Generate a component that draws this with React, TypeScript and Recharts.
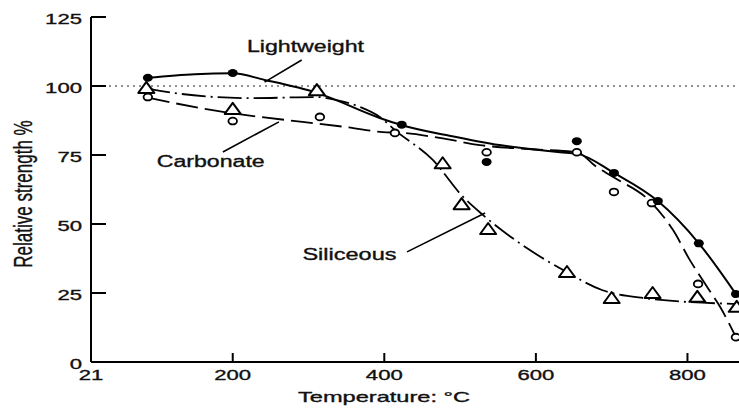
import React from 'react';
import {
  ComposedChart,
  Line,
  Scatter,
  XAxis,
  YAxis,
  ReferenceLine,
  ReferenceDot,
} from 'recharts';

// axis ticks
const tempTicks = [21, 200, 400, 600, 800];
const strengthTicks = [0, 25, 50, 75, 100, 125];

// measured points [temperature °C, relative strength %]
const lightweightPoints = [
  [88, 103], [200, 104.7], [423, 86], [535, 72.5], [654, 80],
  [703, 68.5], [761, 58.3], [815, 43], [864, 24.6],
];
const carbonatePoints = [
  [88, 96], [200, 87.3], [315, 88.8], [414, 83], [535, 76], [654, 76],
  [703, 61.6], [753, 57.6], [814, 28.3], [864, 9],
];
const siliceousPoints = [
  [86, 99.3], [200, 91.7], [311, 98.5], [477, 72], [502, 57.2], [537, 48.2],
  [641, 32.6], [700, 23.2], [754, 25], [813, 23.6], [865, 20],
];

// hand drawn fit curves
const lightweightCurve = [
  [88, 103], [150, 104.3], [200, 104.6], [242, 102.2], [311, 97.5], [394, 88.4],
  [423, 85.8], [486, 82], [552, 78.6], [632, 76], [654, 75.5], [703, 68.5],
  [761, 58.3], [815, 43], [864, 24.6],
];
const carbonateCurve = [
  [88, 95.8], [187, 90.6], [236, 88.8], [292, 87], [350, 85.1], [398, 83.3],
  [424, 83], [473, 81.2], [526, 78.6], [600, 77], [654, 76], [680, 70.7],
  [702, 67], [753, 57.6], [781, 47.8], [803, 37], [826, 27.2], [843, 20], [864, 9],
];
const siliceousCurve = [
  [86, 99.3], [104, 98.2], [224, 95.6], [311, 96], [337, 94.9], [368, 92.4],
  [394, 88.8], [414, 84], [464, 73.2], [504, 59.8], [530, 53.3], [588, 41.3],
  [636, 33.3], [688, 26], [741, 23.2], [867, 21],
];

// curve names with their leader lines
const curveLabels = [
  { text: 'Lightweight', t: 296, v: 112.2, width: 117 },
  { text: 'Carbonate', t: 171, v: 70.5, width: 108 },
  { text: 'Siliceous', t: 354, v: 37.1, width: 94 },
];
const leaders = [
  [[242, 101.4], [291, 109.4]],
  [[187, 76.1], [261, 87]],
  [[430, 39.9], [533, 54]],
];

const toRows = (pairs: number[][]) => pairs.map(([t, v]) => ({ t, v }));

const FONT = '"Liberation Sans", Arial, Helvetica, sans-serif';
const DIGIT_W = 12.3;
const ink = { fill: '#111', stroke: '#111', strokeWidth: 0.35 };

const XTick = (props: any) => {
  const { x, y, payload } = props;
  const label = String(payload.value);
  const first = payload.value === 21;
  return (
    <g>
      {!first && <line x1={x} y1={y} x2={x} y2={y - 9} stroke="#000" strokeWidth={2} />}
      <text
        x={first ? x - 6 : x}
        y={y + 18}
        textAnchor="middle"
        fontFamily={FONT}
        fontSize={15.5}
        {...ink}
        textLength={DIGIT_W * label.length}
        lengthAdjust="spacingAndGlyphs"
      >
        {label}
      </text>
    </g>
  );
};

const YTick = (props: any) => {
  const { x, y, payload } = props;
  const label = String(payload.value);
  return (
    <g>
      <line x1={x} y1={y} x2={x + 15} y2={y} stroke="#000" strokeWidth={2} />
      <text
        x={x - 9}
        y={y + 6.5}
        textAnchor="end"
        fontFamily={FONT}
        fontSize={15.5}
        {...ink}
        textLength={DIGIT_W * label.length}
        lengthAdjust="spacingAndGlyphs"
      >
        {label}
      </text>
    </g>
  );
};

const FilledDot = (props: any) => (
  <ellipse cx={props.cx} cy={props.cy} rx={5} ry={4} fill="#000" />
);

const OpenDot = (props: any) => (
  <ellipse cx={props.cx} cy={props.cy} rx={4.3} ry={3.4} fill="#fff" stroke="#000" strokeWidth={1.8} />
);

const OpenTriangle = (props: any) => {
  const { cx, cy } = props;
  return (
    <polygon
      points={`${cx - 8},${cy + 5} ${cx + 8},${cy + 5} ${cx},${cy - 6}`}
      fill="#fff"
      stroke="#000"
      strokeWidth={2}
      strokeLinejoin="round"
    />
  );
};

const App = () => {
  return (
    <div style={{ position: 'absolute', left: 0, top: 0, background: '#fff' }}>
      <ComposedChart width={739} height={408} margin={{ top: 17, right: 0, bottom: 0, left: 0 }}>
        <XAxis
          dataKey="t"
          type="number"
          domain={[13, 868]}
          ticks={tempTicks}
          interval={0}
          height={46}
          tickSize={0}
          tickMargin={0}
          tickLine={false}
          axisLine={{ stroke: '#000', strokeWidth: 2 }}
          tick={(p: any) => <XTick {...p} />}
          label={{
            content: () => (
              <text
                x={384}
                y={402}
                textAnchor="middle"
                fontFamily={FONT}
                fontSize={15}
                {...ink}
                textLength={172}
                lengthAdjust="spacingAndGlyphs"
              >
                Temperature: °C
              </text>
            ),
          }}
        />
        <YAxis
          dataKey="v"
          type="number"
          domain={[0, 125]}
          ticks={strengthTicks}
          interval={0}
          width={91}
          tickSize={0}
          tickMargin={0}
          tickLine={false}
          axisLine={{ stroke: '#000', strokeWidth: 2 }}
          tick={(p: any) => <YTick {...p} />}
          label={{
            content: () => (
              <text
                transform="translate(32,194) scale(1.48,1) rotate(-90)"
                textAnchor="middle"
                fontFamily={FONT}
                fontSize={17}
                fill="#111"
                stroke="#111"
                strokeWidth={0.25}
              >
                Relative strength %
              </text>
            ),
          }}
        />

        <ReferenceLine y={100} stroke="#222" strokeWidth={1.2} strokeDasharray="2 4" />

        {leaders.map((seg, i) => (
          <ReferenceLine
            key={'lead' + i}
            segment={[{ x: seg[0][0], y: seg[0][1] }, { x: seg[1][0], y: seg[1][1] }]}
            stroke="#000"
            strokeWidth={1.6}
          />
        ))}

        <Line
          data={toRows(carbonateCurve)}
          dataKey="v"
          type="monotone"
          stroke="#000"
          strokeWidth={1.8}
          strokeDasharray="22 7"
          dot={false}
          activeDot={false}
          isAnimationActive={false}
        />
        <Line
          data={toRows(siliceousCurve)}
          dataKey="v"
          type="monotone"
          stroke="#000"
          strokeWidth={1.8}
          strokeDasharray="24 5 2 5"
          dot={false}
          activeDot={false}
          isAnimationActive={false}
        />
        <Line
          data={toRows(lightweightCurve)}
          dataKey="v"
          type="monotone"
          stroke="#000"
          strokeWidth={2}
          dot={false}
          activeDot={false}
          isAnimationActive={false}
        />

        <Scatter data={toRows(carbonatePoints)} dataKey="v" shape={OpenDot} isAnimationActive={false} />
        <Scatter data={toRows(siliceousPoints)} dataKey="v" shape={OpenTriangle} isAnimationActive={false} />
        <Scatter data={toRows(lightweightPoints)} dataKey="v" shape={FilledDot} isAnimationActive={false} />

        {curveLabels.map((l) => (
          <ReferenceDot
            key={l.text}
            x={l.t}
            y={l.v}
            r={0}
            shape={(p: any) => (
              <text
                x={p.cx}
                y={p.cy}
                textAnchor="middle"
                fontFamily={FONT}
                fontSize={16}
                {...ink}
                textLength={l.width}
                lengthAdjust="spacingAndGlyphs"
              >
                {l.text}
              </text>
            )}
          />
        ))}
      </ComposedChart>
    </div>
  );
};

export default App;
